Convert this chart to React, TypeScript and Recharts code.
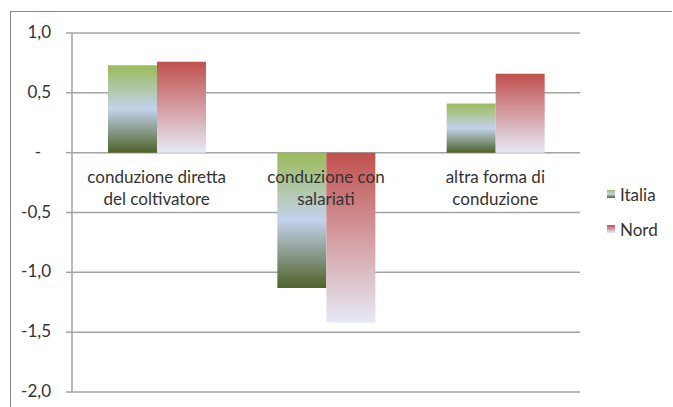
import { BarChart, Bar, XAxis, YAxis, CartesianGrid } from 'recharts';

const categories = ['conduzione diretta del coltivatore', 'conduzione con salariati', 'altra forma di conduzione'];
const italia = [0.73, -1.13, 0.41];
const nord = [0.76, -1.42, 0.66];
const yTicks = [-2, -1.5, -1, -0.5, 0, 0.5, 1];
const seriesNames = ['Italia', 'Nord'];

const data = categories.map((c, i) => ({ name: c, Italia: italia[i], Nord: nord[i] }));

const W = 673;
const H = 407;
const X_AXIS_H = 1;
const MARGIN = { top: 33, right: 93, bottom: 14, left: 0 };
const Y_MIN = -2;
const Y_MAX = 1;
const FONT = 'Lato, "Open Sans", sans-serif';
const GRID = '#a3a3a3';

// y of the zero line, used to put the category labels under it like Excel does
const plotH = H - MARGIN.top - MARGIN.bottom - X_AXIS_H;
const zeroY = MARGIN.top + (plotH * (Y_MAX - 0)) / (Y_MAX - Y_MIN);

function wrap(text: string, max = 18): string[] {
  const lines: string[] = [];
  let cur = '';
  text.split(' ').forEach((w) => {
    const next = cur ? cur + ' ' + w : w;
    if (next.length > max && cur) {
      lines.push(cur);
      cur = w;
    } else {
      cur = next;
    }
  });
  if (cur) lines.push(cur);
  return lines;
}

function CategoryTick(props: any) {
  const { x, payload } = props;
  const lines = wrap(payload.value);
  return (
    <g>
      {lines.map((l, i) => (
        <text
          key={i}
          x={x}
          y={zeroY + 30.5 + i * 22}
          textAnchor="middle"
          fill="#333"
          fontSize={17}
          fontFamily={FONT}
        >
          {l}
        </text>
      ))}
    </g>
  );
}

function ValueTick(props: any) {
  const { x, y, payload } = props;
  const v = payload.value as number;
  const label = v === 0 ? '-' : v.toFixed(1).replace('.', ',');
  return (
    <text
      x={v === 0 ? x - 10 : x}
      y={y}
      dy={5}
      textAnchor="end"
      fill="#333"
      fontSize={17}
      fontFamily={FONT}
    >
      {label}
    </text>
  );
}

const swatch = [
  'linear-gradient(#9bbb59, #c3d2ec 50%, #4f6228)',
  'linear-gradient(#c0504d, #e6e9f5)',
];

export default function App() {
  return (
    <div style={{ position: 'absolute', left: 0, top: 0, width: W, height: H, background: '#fff', overflow: 'hidden' }}>
      <div
        style={{
          position: 'absolute',
          left: 10,
          top: 11,
          width: W - 11,
          height: H,
          borderTop: '1.5px solid #8a8a8a',
          borderLeft: '1.5px solid #8a8a8a',
          boxSizing: 'border-box',
        }}
      />
      <BarChart
        width={W}
        height={H}
        data={data}
        margin={MARGIN}
        barGap={0}
        barCategoryGap={36}
        style={{ position: 'absolute', left: 0, top: 0 }}
      >
        <defs>
          <linearGradient id="gItalia" x1="0" y1="0" x2="0" y2="1">
            <stop offset="0%" stopColor="#9bbb59" />
            <stop offset="50%" stopColor="#c3d2ec" />
            <stop offset="100%" stopColor="#4f6228" />
          </linearGradient>
          <linearGradient id="gNord" x1="0" y1="0" x2="0" y2="1">
            <stop offset="0%" stopColor="#c0504d" />
            <stop offset="100%" stopColor="#e6e9f5" />
          </linearGradient>
        </defs>
        <CartesianGrid vertical={false} stroke={GRID} strokeWidth={1.5} />
        <XAxis dataKey="name" height={X_AXIS_H} axisLine={false} tickLine={false} tick={<CategoryTick />} interval={0} />
        <YAxis
          domain={[Y_MIN, Y_MAX]}
          ticks={yTicks}
          width={72}
          tickSize={6}
          tickMargin={15}
          axisLine={{ stroke: GRID, strokeWidth: 1.5 }}
          tickLine={{ stroke: GRID, strokeWidth: 1.5 }}
          tick={<ValueTick />}
          interval={0}
        />
        <Bar dataKey="Italia" fill="url(#gItalia)" isAnimationActive={false} />
        <Bar dataKey="Nord" fill="url(#gNord)" isAnimationActive={false} />
      </BarChart>
      <div style={{ position: 'absolute', left: 607, top: 183, fontFamily: FONT, fontSize: 17, color: '#333' }}>
        {seriesNames.map((s, i) => (
          <div key={s} style={{ display: 'flex', alignItems: 'center', height: 22, marginBottom: 13 }}>
            <span style={{ width: 8, height: 8, background: swatch[i], marginRight: 5, display: 'inline-block' }} />
            {s}
          </div>
        ))}
      </div>
    </div>
  );
}
